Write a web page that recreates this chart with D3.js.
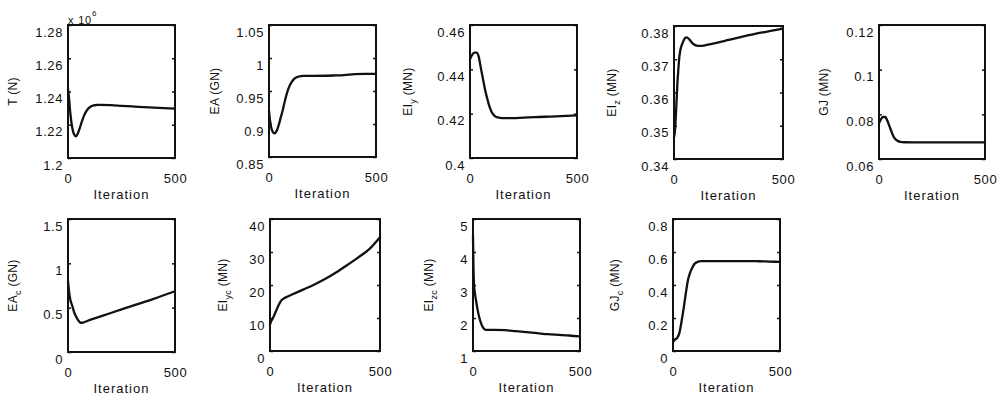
<!DOCTYPE html>
<html>
<head>
<meta charset="utf-8">
<script src="https://cdn.jsdelivr.net/npm/d3@7"></script>
<style>
  html, body { margin: 0; padding: 0; background: #fff; }
  svg { display: block; }
  text { font-family: "Liberation Sans", Arial, Helvetica, sans-serif; fill: #111; }
</style>
</head>
<body>
<svg id="chart" width="1004" height="397"></svg>
<script>
// ---------------- data ----------------
const tIter   = [0, 5, 10, 20, 30, 37, 45, 55, 65, 75, 90, 105, 120, 135, 150, 200, 250, 300, 350, 400, 450, 500];
const tVal    = [1.2415, 1.236, 1.228, 1.218, 1.2138, 1.2130, 1.2145, 1.218, 1.222, 1.2255, 1.2290, 1.2308, 1.2316, 1.2319, 1.2320, 1.2318, 1.2314, 1.2310, 1.2306, 1.2303, 1.2300, 1.2297]; // x 10^6 N

const eaIter  = [0, 5, 10, 20, 27, 35, 45, 55, 65, 75, 85, 95, 105, 120, 140, 160, 200, 300, 350, 400, 450, 500];
const eaVal   = [0.92, 0.905, 0.895, 0.887, 0.886, 0.889, 0.898, 0.91, 0.922, 0.936, 0.948, 0.957, 0.963, 0.969, 0.972, 0.973, 0.973, 0.9735, 0.974, 0.9755, 0.976, 0.976];

const eiyIter = [0, 10, 20, 30, 40, 50, 60, 70, 80, 90, 100, 115, 130, 150, 200, 250, 300, 350, 400, 450, 500];
const eiyVal  = [0.4445, 0.4465, 0.4475, 0.4475, 0.446, 0.441, 0.436, 0.431, 0.427, 0.4235, 0.421, 0.419, 0.4183, 0.418, 0.418, 0.4182, 0.4184, 0.4186, 0.4188, 0.419, 0.4192];

const eizIter = [0, 5, 10, 15, 20, 25, 30, 40, 50, 58, 70, 85, 100, 120, 150, 200, 250, 300, 350, 400, 450, 500];
const eizVal  = [0.3465, 0.349, 0.355, 0.362, 0.367, 0.371, 0.373, 0.375, 0.3763, 0.3766, 0.376, 0.3748, 0.3742, 0.374, 0.3743, 0.375, 0.3758, 0.3766, 0.3773, 0.378, 0.3786, 0.3792];

const gjIter  = [0, 10, 20, 30, 40, 50, 60, 70, 80, 90, 100, 120, 200, 300, 400, 500];
const gjVal   = [0.076, 0.078, 0.0788, 0.0788, 0.077, 0.0745, 0.072, 0.0698, 0.0687, 0.068, 0.0677, 0.0675, 0.0674, 0.0674, 0.0674, 0.0674];

const eacIter = [0, 5, 10, 20, 30, 40, 50, 60, 70, 100, 200, 300, 400, 500];
const eacVal  = [0.8, 0.68, 0.6, 0.52, 0.44, 0.39, 0.35, 0.33, 0.332, 0.36, 0.44, 0.52, 0.6, 0.685];

const eiycIter = [0, 5, 10, 20, 30, 40, 50, 60, 80, 100, 150, 200, 250, 300, 350, 400, 450, 500];
const eiycVal  = [8, 9, 9.5, 11, 12.5, 14, 15.2, 15.8, 16.5, 17.1, 18.6, 20.1, 21.8, 23.8, 26, 28.3, 30.8, 34.5];

const eizcIter = [0, 2, 5, 10, 15, 20, 30, 40, 50, 60, 100, 150, 200, 250, 300, 350, 400, 450, 500];
const eizcVal  = [4.5, 3.6, 3.0, 2.7, 2.5, 2.3, 2.0, 1.8, 1.68, 1.64, 1.64, 1.63, 1.6, 1.57, 1.54, 1.51, 1.49, 1.47, 1.44];

const gjcIter = [0, 10, 20, 30, 40, 50, 60, 70, 80, 90, 100, 115, 130, 200, 300, 400, 450, 500];
const gjcVal  = [0.055, 0.07, 0.08, 0.11, 0.18, 0.26, 0.35, 0.43, 0.475, 0.505, 0.527, 0.54, 0.545, 0.545, 0.545, 0.544, 0.542, 0.54];

// tick values
const tTicks    = [1.2, 1.22, 1.24, 1.26, 1.28];
const eaTicks   = [0.85, 0.9, 0.95, 1, 1.05];
const eiyTicks  = [0.4, 0.42, 0.44, 0.46];
const eizTicks  = [0.34, 0.35, 0.36, 0.37, 0.38];
const gjTicks   = [0.06, 0.08, 0.1, 0.12];
const eacTicks  = [0, 0.5, 1, 1.5];
const eiycTicks = [0, 10, 20, 30, 40];
const eizcTicks = [1, 2, 3, 4, 5];
const gjcTicks  = [0, 0.2, 0.4, 0.6, 0.8];
const xTicks    = [0, 500];

// axis labels: [main, subscript, unit]
const yLabels = [
  ["T", "", " (N)"], ["EA", "", " (GN)"], ["EI", "y", " (MN)"], ["EI", "z", " (MN)"], ["GJ", "", " (MN)"],
  ["EA", "c", " (GN)"], ["EI", "yc", " (MN)"], ["EI", "zc", " (MN)"], ["GJ", "c", " (MN)"]
];
const xLabel = "Iteration";

// ---------------- layout (positions / sizes) ----------------
const layout = [
  {x: 68,  y: 25,  w: 107, h: 133, lab: 55},
  {x: 269, y: 25,  w: 107, h: 132, lab: 54},
  {x: 470, y: 25,  w: 107, h: 133, lab: 62},
  {x: 674, y: 26,  w: 109, h: 133, lab: 62},
  {x: 879, y: 25,  w: 106, h: 134, lab: 55},
  {x: 68,  y: 219, w: 107, h: 133, lab: 55},
  {x: 270, y: 219, w: 110, h: 132, lab: 47},
  {x: 473, y: 219, w: 107, h: 132, lab: 44},
  {x: 673, y: 219, w: 107, h: 132, lab: 58}
];

const series = [
  {it: tIter, v: tVal, ticks: tTicks},
  {it: eaIter, v: eaVal, ticks: eaTicks},
  {it: eiyIter, v: eiyVal, ticks: eiyTicks},
  {it: eizIter, v: eizVal, ticks: eizTicks},
  {it: gjIter, v: gjVal, ticks: gjTicks},
  {it: eacIter, v: eacVal, ticks: eacTicks},
  {it: eiycIter, v: eiycVal, ticks: eiycTicks},
  {it: eizcIter, v: eizcVal, ticks: eizcTicks},
  {it: gjcIter, v: gjcVal, ticks: gjcTicks}
];

const svg = d3.select("#chart");
const fmt = v => String(+v.toFixed(4));

series.forEach((s, i) => {
  const L = layout[i];
  const g = svg.append("g").attr("transform", `translate(${L.x},${L.y})`);
  const x = d3.scaleLinear().domain([0, 500]).range([0, L.w]);
  const y = d3.scaleLinear().domain(d3.extent(s.ticks)).range([L.h, 0]);

  // left axis with inward ticks, labels sitting a bit low (as in the scan)
  const ax = g.append("g").call(d3.axisLeft(y).tickValues(s.ticks).tickFormat(fmt).tickSizeInner(-3).tickSizeOuter(0).tickPadding(5));
  ax.select(".domain").remove();
  ax.selectAll(".tick line").attr("stroke", "#111").attr("stroke-width", 1.5);
  ax.selectAll(".tick text").attr("dy", "11px").style("font-size", "13px").style("letter-spacing", "0.6px")
    .style("font-family", '"Liberation Sans", Arial, sans-serif').attr("fill", "#111");

  const axr = g.append("g").attr("transform", `translate(${L.w},0)`)
    .call(d3.axisRight(y).tickValues(s.ticks).tickFormat("").tickSizeInner(-3).tickSizeOuter(0));
  axr.select(".domain").remove();
  axr.selectAll(".tick line").attr("stroke", "#111").attr("stroke-width", 1.5);

  const axb = g.append("g").attr("transform", `translate(0,${L.h})`)
    .call(d3.axisBottom(x).tickValues(xTicks).tickFormat(d3.format("d")).tickSizeInner(-3).tickSizeOuter(0).tickPadding(16));
  axb.select(".domain").remove();
  axb.selectAll(".tick line").attr("stroke", "#111");
  axb.selectAll(".tick text").style("font-size", "13px").style("letter-spacing", "0.6px")
    .style("font-family", '"Liberation Sans", Arial, sans-serif').attr("fill", "#111");

  // box
  g.append("rect").attr("x", 0).attr("y", 0).attr("width", L.w).attr("height", L.h)
    .attr("fill", "none").attr("stroke", "#111").attr("stroke-width", 2);

  // curve
  const pts = s.it.map((d, k) => [d, s.v[k]]);
  g.append("path").datum(pts)
    .attr("d", d3.line().x(d => x(d[0])).y(d => y(d[1])).curve(d3.curveMonotoneX))
    .attr("fill", "none").attr("stroke", "#111").attr("stroke-width", 2.3)
    .attr("stroke-linejoin", "round").attr("stroke-linecap", "round");

  // x label
  g.append("text").attr("x", L.w / 2).attr("y", L.h + 41).attr("text-anchor", "middle")
    .style("font-size", "13px").style("letter-spacing", "1px").text(xLabel);

  // y label (rotated)
  const lab = yLabels[i];
  const t = g.append("text")
    .attr("transform", `translate(${-L.lab + 4},${L.h / 2}) rotate(-90)`)
    .attr("text-anchor", "middle").style("font-size", "12px").style("letter-spacing", "0.3px");
  t.append("tspan").text(lab[0]);
  if (lab[1]) t.append("tspan").attr("dy", 4).style("font-size", "9px").text(lab[1]);
  t.append("tspan").attr("dy", lab[1] ? -4 : 0).text(lab[2]);

  if (i === 0) {
    const e = g.append("text").attr("x", 0).attr("y", -1).style("font-size", "11px").style("letter-spacing", "0.8px");
    e.append("tspan").text("x 10");
    e.append("tspan").attr("dy", -8).style("font-size", "8px").text("6");
  }
});
</script>
</body>
</html>
